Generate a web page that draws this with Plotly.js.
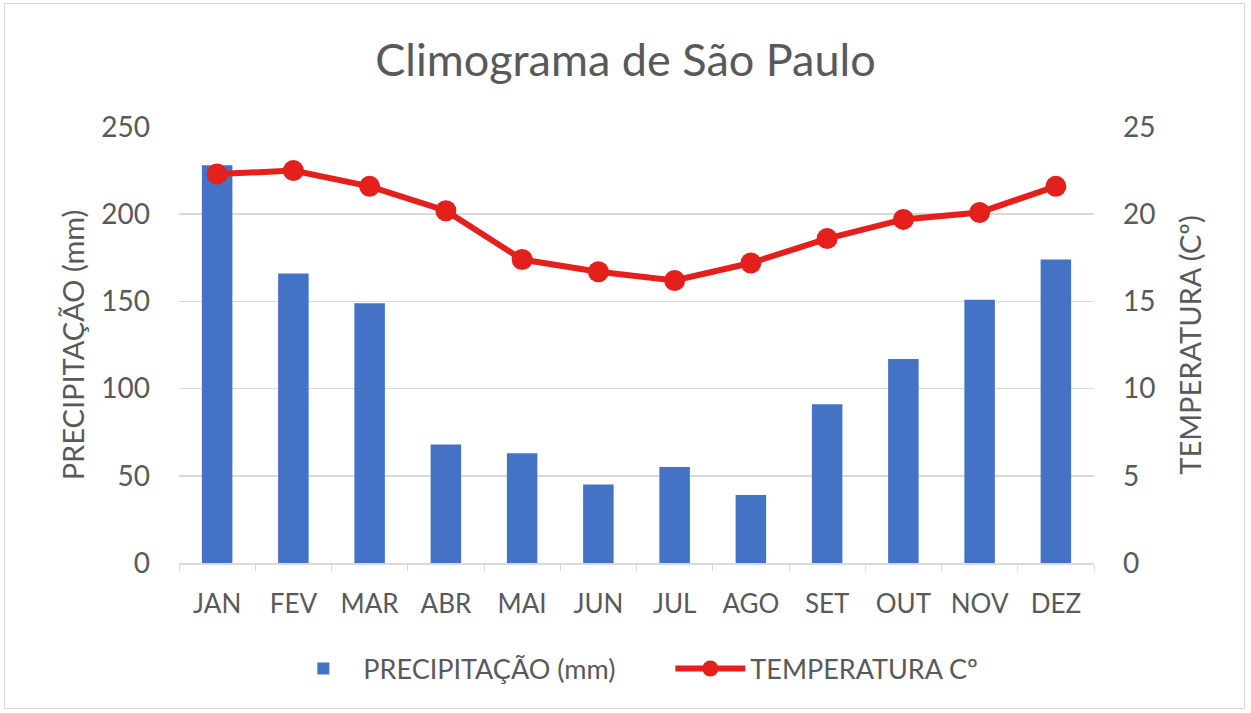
<!DOCTYPE html>
<html>
<head>
<meta charset="utf-8">
<script src="https://cdn.plot.ly/plotly-3.0.1.min.js"></script>
<style>
html,body{margin:0;padding:0;background:#fff;}
#chart{width:1251px;height:713px;box-sizing:border-box;}
#frame{position:absolute;left:4px;top:3px;width:1241px;height:706px;border:1px solid #d9d9d9;pointer-events:none;box-sizing:border-box;}
</style>
</head>
<body>
<div id="chart"></div>
<div id="frame"></div>
<script>
const months = ["JAN","FEV","MAR","ABR","MAI","JUN","JUL","AGO","SET","OUT","NOV","DEZ"];
const precipitacao = [228, 166, 149, 68, 63, 45, 55, 39, 91, 117, 151, 174];
const temperatura = [22.3, 22.5, 21.6, 20.2, 17.4, 16.7, 16.2, 17.2, 18.6, 19.7, 20.1, 21.6];
const leftTicks = [0, 50, 100, 150, 200, 250];
const rightTicks = [0, 5, 10, 15, 20, 25];

const font = "Lato, 'Open Sans', sans-serif";
const gray = "#595959";

const traces = [
  {
    type: "bar", name: "PRECIPITAÇÃO (mm)", x: months, y: precipitacao,
    marker: {color: "#4472c4"}, width: 0.4, yaxis: "y"
  },
  {
    type: "scatter", mode: "lines+markers", name: "TEMPERATURA Cº", x: months, y: temperatura,
    line: {color: "#e3201b", width: 6}, marker: {color: "#e3201b", size: 21}, yaxis: "y2"
  }
];

const layout = {
  width: 1251, height: 713,
  margin: {l: 179, r: 157, t: 127, b: 150},
  paper_bgcolor: "#ffffff", plot_bgcolor: "#ffffff",
  font: {family: font, color: gray, size: 26},
  title: {text: "Climograma de São Paulo", font: {family: font, size: 45, color: gray}, x: 0.5, xanchor: "center", y: 0.915, yanchor: "middle"},
  showlegend: true,
  legend: {orientation: "h", x: 0.537, xanchor: "center", y: -0.243, yanchor: "middle", font: {size: 27, color: gray}, itemwidth: 70, entrywidth: 302, entrywidthmode: "pixels", traceorder: "normal"},
  xaxis: {
    type: "category", range: [-0.5, 11.5], autorange: false, tickfont: {size: 26, color: gray}, showgrid: false, automargin: false,
    showline: true, linecolor: "#d9d9d9", linewidth: 1.5,
    ticks: "outside", tickson: "boundaries", ticklen: 6, tickcolor: "#d9d9d9", ticklabelstandoff: 17
  },
  yaxis: {
    range: [0, 250], tickvals: leftTicks, ticktext: leftTicks.map(String), automargin: false,
    tickfont: {size: 28, color: gray}, showgrid: true, gridcolor: "#d9d9d9", gridwidth: 1.5,
    zeroline: false, ticks: "", ticklabelstandoff: 28,
    title: {text: "PRECIPITAÇÃO (mm)", font: {size: 29, color: gray}, standoff: 8}
  },
  yaxis2: {
    range: [0, 25], tickvals: rightTicks, ticktext: rightTicks.map(String), automargin: false,
    overlaying: "y", side: "right", showgrid: false, zeroline: false,
    tickfont: {size: 28, color: gray}, ticks: "", ticklabelstandoff: 28,
    title: {text: "TEMPERATURA (Cº)", font: {size: 29, color: gray}, standoff: 26}
  }
};

Plotly.newPlot("chart", traces, layout, {displayModeBar: false, staticPlot: true});
</script>
</body>
</html>
